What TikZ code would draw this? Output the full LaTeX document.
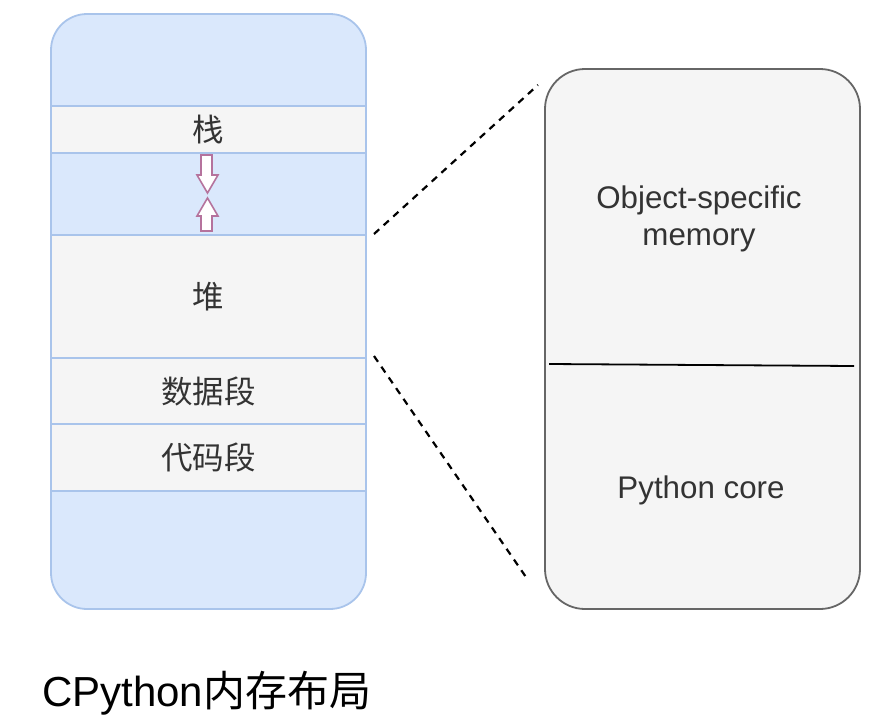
\documentclass[tikz,border=0pt]{standalone}
\usepackage{fontspec}
\setmainfont{Liberation Sans}
\newfontfamily\cjk{Noto Sans CJK SC}
\definecolor{bluefill}{HTML}{DAE8FC}
\definecolor{bluedraw}{HTML}{A9C4EB}
\definecolor{grayfill}{HTML}{F5F5F5}
\definecolor{graydraw}{HTML}{666666}
\definecolor{txt}{HTML}{333333}
\definecolor{arrowc}{HTML}{B5739D}
\tikzset{
  band/.style={draw=bluedraw, line width=1.5pt, fill=grayfill, minimum width=315pt, inner sep=0pt, outer sep=0pt, text=txt, font=\cjk\fontsize{31.5}{36}\selectfont},
  lbl/.style={text=txt, font=\fontsize{31.3}{37.5}\selectfont, align=center},
  dashln/.style={draw=black, line width=2.2pt, dash pattern=on 7pt off 6pt},
  growarrow/.style={draw=arrowc, line width=1.6pt, fill=white, line join=miter},
}
\begin{document}
\begin{tikzpicture}[x=1pt,y=-1pt]
\useasboundingbox (0,0) rectangle (875,720);
% left memory block
\node[draw=bluedraw, line width=1.8pt, fill=bluefill, rounded corners=36pt, minimum width=315pt, minimum height=595pt, inner sep=0pt] (mem) at (208.5,311.5) {};
\node[band, minimum height=47pt] (stack) at (208.5,129.5) {栈};
\node[band, minimum height=123pt] (heap) at (208.5,296.5) {堆};
\node[band, minimum height=66pt] (data) at (208.5,391) {数据段};
\node[band, minimum height=67pt] (code) at (208.5,457.5) {代码段};
% growth arrows
\draw[growarrow] (201,155) -- (212,155) -- (212,175) -- (218,175) -- (207.5,193) -- (197,175) -- (201,175) -- cycle;
\draw[growarrow] (207.5,198) -- (218,216) -- (212,216) -- (212,231) -- (201,231) -- (201,216) -- (197,216) -- cycle;
% right block
\node[draw=graydraw, line width=1.8pt, fill=grayfill, rounded corners=40pt, minimum width=315pt, minimum height=540pt, inner sep=0pt] (detail) at (702.5,339) {};
\coordinate (sepl) at (549,364);
\coordinate (sepr) at (854,366);
\draw[black, line width=1.8pt] (sepl) -- (sepr);
\node[lbl] (obj) at (699,219) {Object-specific\\memory};
\node[lbl] (core) at (701,490) {Python core};
% dashed zoom lines
\coordinate (za) at (374,234);
\coordinate (zb) at (538,85);
\coordinate (zc) at (374,356);
\coordinate (zd) at (528,580);
\draw[dashln] (za) -- (zb);
\draw[dashln] (zc) -- (zd);
% title
\node[anchor=base west, inner sep=0pt, font=\fontsize{42}{50}\selectfont] (title) at (42,706) {CPython{\cjk 内存布局}};
\end{tikzpicture}
\end{document}
